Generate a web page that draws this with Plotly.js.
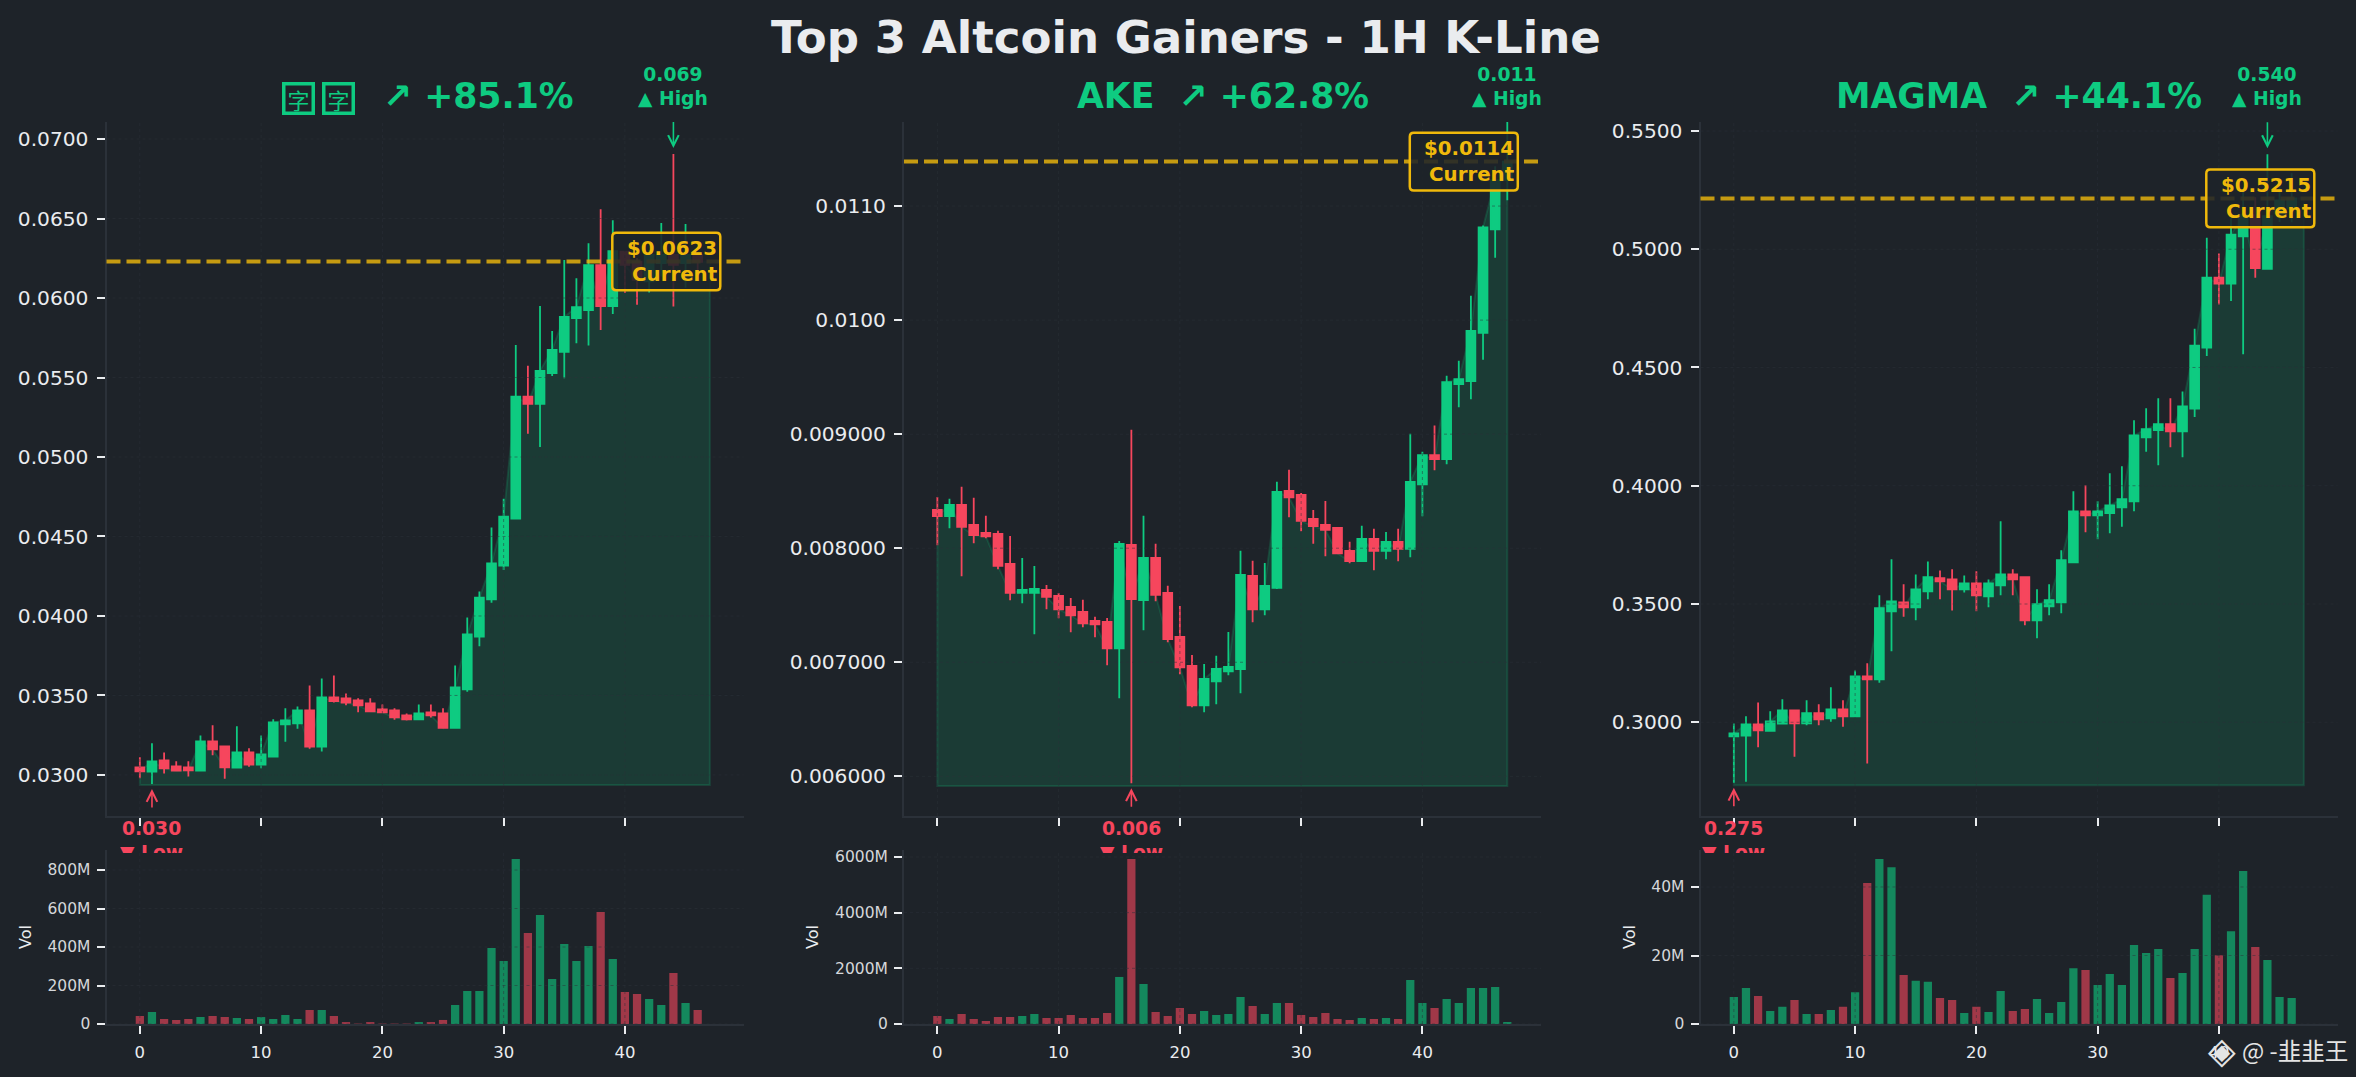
<!DOCTYPE html>
<html><head><meta charset="utf-8">
<script src="https://cdn.plot.ly/plotly-3.0.1.min.js"></script>
<style>html,body{margin:0;padding:0;background:#1E2329}#chart{width:2356px;height:1077px}</style>
</head><body><div id="chart"></div>
<script>
// ---------- data ----------
const chartTitle = 'Top 3 Altcoin Gainers - 1H K-Line';

const open1  = [.03048,.03021,.03092,.03054,.03048,.03027,.03211,.0318,.03046,.03142,.03065,.03115,.03318,.03325,.03406,.03178,.03488,.03482,.03469,.0345,.03413,.03406,.03375,.0335,.03394,.03387,.03297,.03538,.03871,.04104,.04317,.04612,.05379,.05335,.05527,.05661,.05873,.05924,.06206,.05949,.06292,.06229,.06104,.0622,.06271,.0622,.06271];
const close1 = [.03023,.03086,.03042,.03027,.03029,.03211,.03161,.03048,.03142,.03065,.0313,.03331,.03343,.03406,.03178,.03488,.03465,.03456,.03438,.034,.03394,.03362,.0335,.03387,.03375,.03297,.03551,.03884,.04116,.0433,.04625,.05379,.05335,.05542,.05674,.05881,.05943,.06206,.05949,.06294,.06209,.06114,.06271,.06271,.06209,.06271,.06227];
const high1  = [.03111,.03199,.03142,.03086,.03086,.03249,.03312,.0318,.03306,.03168,.03249,.0335,.03419,.03431,.03563,.03607,.03626,.03513,.03482,.03482,.03444,.03419,.03387,.03444,.03444,.03419,.03689,.0399,.04154,.04556,.04738,.05705,.05574,.0595,.05793,.06239,.06125,.06345,.06558,.06489,.06295,.06252,.063,.06472,.06906,.06466,.0629];
const low1   = [.02979,.02943,.0301,.03023,.0299,.03027,.03124,.02977,.03042,.03052,.03042,.03111,.03209,.03291,.03165,.03147,.03456,.03438,.03394,.03394,.03394,.03348,.03343,.0335,.03362,.03293,.03291,.03524,.0381,.04083,.0429,.04612,.05146,.05063,.05509,.05496,.05716,.05702,.05798,.05899,.06031,.05957,.06035,.06135,.05947,.06064,.0614];
const vol1   = [42,62,26,21,26,36,42,36,31,26,36,26,47,26,73,73,42,10,2,10,2,2,2,10,10,21,99,171,171,395,327,857,473,566,234,416,327,405,582,338,166,156,130,99,265,109,73];

const open2  = [.008336,.008281,.00838,.008205,.008135,.008126,.007863,.007608,.007608,.007634,.007582,.007485,.007442,.007363,.007354,.007123,.008029,.007544,.007915,.007608,.007222,.006968,.006623,.006833,.006921,.006939,.007757,.007465,.007652,.008503,.008468,.008257,.008205,.008178,.007977,.007886,.008082,.007977,.008056,.007994,.008561,.008816,.008781,.009439,.009465,.009889,.010795,.011228];
const close2 = [.008281,.00838,.008187,.008114,.008105,.007845,.007608,.007634,.007643,.007573,.007465,.007412,.007342,.007333,.007123,.008038,.007553,.007915,.007591,.007202,.006956,.006623,.006854,.006942,.006959,.007766,.007465,.00767,.008494,.008447,.00824,.008193,.008161,.007956,.007886,.008082,.007977,.008056,.007994,.008582,.008816,.008781,.009456,.009482,.009906,.010813,.011228,.01139];
const high2  = [.00845,.008433,.008538,.008442,.008284,.008152,.008108,.007915,.007845,.007678,.007608,.007564,.007547,.007398,.007389,.008064,.009038,.008284,.008038,.00767,.007494,.007064,.006985,.007056,.007266,.007977,.007889,.007871,.008582,.008687,.008485,.008336,.008415,.008184,.008056,.008196,.00817,.008143,.00817,.009003,.008845,.009076,.009512,.009643,.010213,.01083,.01135,.01175];
const low2   = [.008026,.008175,.007754,.008044,.008088,.007816,.007544,.007518,.007246,.007465,.007386,.007263,.007307,.007219,.006974,.006684,.005939,.007281,.007535,.007175,.006895,.006605,.006561,.006632,.006886,.006728,.007351,.007412,.007643,.008272,.008149,.008038,.00793,.007956,.007868,.007886,.007807,.007904,.007886,.007921,.008281,.008684,.008737,.009237,.009307,.009652,.010547,.01105];
const vol2   = [287,180,359,180,108,251,251,287,359,215,215,323,215,215,395,1690,5930,1438,431,287,575,359,467,323,359,970,647,359,755,755,323,251,395,180,144,215,180,215,180,1581,755,575,898,755,1294,1294,1330,72];

const open3  = [.294,.2944,.2991,.2964,.2994,.305,.2995,.3038,.3016,.3054,.3025,.3194,.3181,.3469,.3507,.3486,.3554,.3609,.3604,.3562,.3587,.3532,.3579,.3625,.3613,.3431,.349,.3507,.3676,.3892,.3875,.3884,.3909,.3934,.4205,.4235,.426,.423,.4326,.4584,.488,.4855,.5054,.5144,.4917,.5152,.5173];
const close3 = [.2953,.2991,.2966,.3004,.305,.2995,.3038,.3012,.3054,.3025,.3194,.3181,.3482,.3511,.3486,.3562,.3613,.3596,.3562,.3587,.3537,.3587,.3625,.3604,.3431,.3499,.3516,.3685,.3892,.3875,.3892,.3917,.3943,.4213,.4239,.426,.423,.4336,.4592,.488,.4855,.5062,.5144,.492,.514,.5207,.5215];
const high3  = [.2995,.3025,.3084,.3046,.3097,.3054,.3093,.3076,.3148,.3093,.3219,.3249,.3537,.3689,.3583,.3625,.368,.3642,.3647,.3621,.3638,.3604,.385,.3647,.3617,.3562,.3583,.3727,.3977,.4002,.3934,.4053,.4082,.4277,.4328,.437,.437,.4398,.4664,.5049,.4982,.5131,.525,.522,.5402,.5283,.5321];
const low3   = [.2744,.2748,.2894,.2961,.299,.2854,.2987,.2987,.3002,.2981,.3025,.2826,.3167,.33,.3446,.3431,.352,.352,.3473,.3549,.3469,.3486,.3537,.3537,.341,.3355,.3452,.3461,.3676,.3803,.3774,.3799,.3827,.3892,.4144,.4087,.4163,.412,.4291,.4549,.4766,.4781,.4556,.4879,.4915,.5115,.5114];
const vol3   = [7.9,10.5,8.2,3.8,5,7,2.9,2.9,4.1,5,9.3,41.2,48.2,45.8,14.3,12.6,12.3,7.6,7,3.2,5,3.5,9.6,3.8,4.4,7.3,3.2,6.4,16.3,15.8,11.4,14.6,11.4,23.1,20.7,21.9,13.4,14.9,21.9,37.7,20.1,27.1,44.7,22.5,18.7,7.9,7.6];

const current = [0.0623, 0.01139, 0.5215];
const currentLabel = ['$0.0623', '$0.0114', '$0.5215'];
const areaBase = [0.02937, 0.005915, 0.2734];
const symbols = ['', 'AKE', 'MAGMA'];
const gains = ['+85.1%', '+62.8%', '+44.1%'];
const missingGlyph = ['字', '字'];
const highText = ['0.069', '0.011', '0.540'];
const lowText = ['0.030', '0.006', '0.275'];
const highIdx = [44, 47, 44];
const lowIdx = [1, 16, 0];
const showHighArrow = [true, false, true];

const priceTicks = [
  [.03,.035,.04,.045,.05,.055,.06,.065,.07],
  [.006,.007,.008,.009,.01,.011],
  [.3,.35,.4,.45,.5,.55]
];
const priceLabels = [
  ['0.0300','0.0350','0.0400','0.0450','0.0500','0.0550','0.0600','0.0650','0.0700'],
  ['0.006000','0.007000','0.008000','0.009000','0.0100','0.0110'],
  ['0.3000','0.3500','0.4000','0.4500','0.5000','0.5500']
];
const volTicks = [[0,200,400,600,800],[0,2000,4000,6000],[0,20,40]];
const volLabels = [['0','200M','400M','600M','800M'],['0','2000M','4000M','6000M'],['0','20M','40M']];
const xTicks = [0,10,20,30,40];
const xTickLabels = ['0','10','20','30','40'];
const priceRanges = [[.02742,.07107],[.005652,.011737],[.26036,.5538]];
const volRanges = [[0,904],[0,6250],[0,50.8]];
const xRange = [-2.75, 49.78];

// ---------- style ----------
const W = 2356, H = 1077;
const BG = '#1E2329', UP = '#0ECB81', DOWN = '#F6465D', GOLD = '#F0B90B', TXT = '#EAECEF', SPINE = '#2B3139';
const FONT = 'DejaVu Sans';
const panelX = [[106.5,743.5],[904,1541],[1700.5,2337.5]];
const mainY = [122,816], volY = [850,1024];
const px = v => v / W, py = v => 1 - v / H;

const opens = [open1,open2,open3], closes = [close1,close2,close3], highs = [high1,high2,high3], lows = [low1,low2,low3], vols = [vol1,vol2,vol3];

const traces = [], shapes = [], annotations = [];
const layout = {
  width: W, height: H, autosize: false,
  margin: {l:0,r:0,t:0,b:0,pad:0},
  paper_bgcolor: BG, plot_bgcolor: BG, showlegend: false, hovermode: false, boxgap: 0.27, boxgroupgap: 0,
  title: {text: chartTitle, x: 1186/W, xref:'paper', xanchor:'center', y: py(37), yanchor:'middle', yref:'paper',
          font:{family:FONT, size:45.1, weight:'bold', color:TXT}}
};

function gridDots(xa, ya, xvals, yvals){
  xvals.forEach(v => shapes.push({type:'line', layer:'above', xref:xa, yref:ya+' domain', x0:v, x1:v, y0:0, y1:1, line:{color:'rgba(43,49,57,0.5)', width:1, dash:'dot'}}));
  yvals.forEach(v => shapes.push({type:'line', layer:'above', xref:xa+' domain', yref:ya, x0:0, x1:1, y0:v, y1:v, line:{color:'rgba(43,49,57,0.5)', width:1, dash:'dot'}}));
}

// rounded outline, in pixels about its anchor
function badgePath(l, r, hh, c){
  return `M${l+c},${-hh} L${r-c},${-hh} Q${r},${-hh} ${r},${-hh+c} L${r},${hh-c} Q${r},${hh} ${r-c},${hh} L${l+c},${hh} Q${l},${hh} ${l},${hh-c} L${l},${-hh+c} Q${l},${-hh} ${l+c},${-hh} Z`;
}

for (let p = 0; p < 3; p++){
  const n = 2*p+1, m = 2*p+2;
  const xm = 'x'+n, ym = 'y'+n, xv = 'x'+m, yv = 'y'+m;
  const xs = opens[p].map((_,i)=>i);
  const xdom = [px(panelX[p][0]), px(panelX[p][1])];
  const axisBase = {showline:true, linecolor:SPINE, linewidth:2, mirror:false, zeroline:false, showgrid:false,
                    ticks:'outside', ticklen:8, tickwidth:2, tickcolor:TXT, fixedrange:true};

  layout['xaxis'+n] = {...axisBase, domain:xdom, anchor:ym, range:xRange, tickmode:'array', tickvals:xTicks, ticktext:xTickLabels,
                       showticklabels:false, rangeslider:{visible:false}};
  layout['yaxis'+n] = {...axisBase, domain:[py(mainY[1]),py(mainY[0])], anchor:xm, range:priceRanges[p], tickmode:'array',
                       tickvals:priceTicks[p], ticktext:priceLabels[p], tickfont:{family:FONT,size:20.2,color:TXT}, ticklabelstandoff:4};
  layout['xaxis'+m] = {...axisBase, domain:xdom, anchor:yv, range:xRange, tickmode:'array', tickvals:xTicks, ticktext:xTickLabels,
                       tickfont:{family:FONT,size:16.5,color:TXT}, ticklabelstandoff:4};
  layout['yaxis'+m] = {...axisBase, domain:[py(volY[1]),py(volY[0])], anchor:xv, range:volRanges[p], tickmode:'array',
                       tickvals:volTicks[p], ticktext:volLabels[p], tickfont:{family:FONT,size:15.5,color:'#D5D7DA'}, ticklabelstandoff:3,
                       title:{text:'Vol', standoff:12, font:{family:FONT,size:16,color:TXT}}};

  // green area under closes, reaching to the last slot
  const areaY = closes[p].concat(xs.length < 48 ? [current[p]] : []);
  const areaPts = areaY.map((v,i)=>i+','+v);
  const last = areaY.length - 1;
  shapes.push({type:'path', layer:'below', xref:xm, yref:ym,
    path:'M'+areaPts.join(' L')+' L'+last+','+areaBase[p]+' L0,'+areaBase[p]+' Z',
    fillcolor:'rgba(14,203,129,0.15)', line:{color:'rgba(14,203,129,0.18)', width:2}});

  traces.push({type:'candlestick', xaxis:xm, yaxis:ym, x:xs, open:opens[p], high:highs[p], low:lows[p], close:closes[p],
    increasing:{line:{color:UP,width:1.8}, fillcolor:UP}, decreasing:{line:{color:DOWN,width:1.8}, fillcolor:DOWN},
    whiskerwidth:0, hoverinfo:'skip'});

  traces.push({type:'bar', xaxis:xv, yaxis:yv, x:xs, y:vols[p], width:0.68,
    marker:{color:xs.map(i=>closes[p][i]>=opens[p][i]?'rgba(14,203,129,0.6)':'rgba(246,70,93,0.6)'), line:{width:0}}, hoverinfo:'skip'});

  gridDots(xm, ym, xTicks, priceTicks[p]);
  gridDots(xv, yv, xTicks, volTicks[p]);

  // current price line
  shapes.push({type:'line', layer:'above', xref:xm+' domain', yref:ym, x0:0, x1:1, y0:current[p], y1:current[p],
    line:{color:'rgba(240,185,11,0.8)', width:4, dash:'14px,6px'}});

  // headline
  const cx = (panelX[p][0]+panelX[p][1])/2;
  const headFont = {family:FONT,size:34.7,weight:'bold',color:UP};
  if (p === 0){
    [298.5,338.5].forEach((bx,i)=>annotations.push({xref:'paper',yref:'paper',x:px(bx),y:py(98.5),xanchor:'center',yanchor:'middle',
      text:missingGlyph[i], showarrow:false, width:26, height:26, borderwidth:3.5, borderpad:0, bordercolor:UP, align:'center', valign:'middle',
      font:{family:'Noto Sans CJK SC',size:22,color:UP}}));
    annotations.push({xref:'paper',yref:'paper',x:px(381),y:py(96),xanchor:'left',yanchor:'middle',showarrow:false,
      text:'↗ '+gains[p], font:headFont});
  } else {
    annotations.push({xref:'paper',yref:'paper',x:px(cx),y:py(96),xanchor:'center',yanchor:'middle',showarrow:false,
      text:symbols[p]+'\u00a0\u00a0↗ '+gains[p], font:headFont});
  }

  // high label + arrow
  annotations.push({xref:xm,yref:'paper',x:highIdx[p],y:py(111),xanchor:'center',yanchor:'bottom',showarrow:false,align:'center',
    text:highText[p]+'<br>▲ High', font:{family:FONT,size:18.75,weight:'bold',color:UP}});
  if (showHighArrow[p]) annotations.push({xref:xm,yref:ym,x:highIdx[p],y:highs[p][highIdx[p]],text:' ',font:{size:1},showarrow:true,
    arrowhead:5,arrowsize:1.3,arrowwidth:1.6,arrowcolor:UP,ax:0,ay:-34,standoff:6});

  // low label + arrow; the label is cut where the volume panel begins
  annotations.push({xref:xm,yref:'paper',x:lowIdx[p],y:py(817),xanchor:'center',yanchor:'top',showarrow:false,align:'center',valign:'top',
    height:35, borderpad:0, text:lowText[p]+'<br>▼ Low', font:{family:FONT,size:18.75,weight:'bold',color:DOWN}});
  annotations.push({xref:xm,yref:ym,x:lowIdx[p],y:lows[p][lowIdx[p]],text:' ',font:{size:1},showarrow:true,
    arrowhead:5,arrowsize:1.3,arrowwidth:1.6,arrowcolor:DOWN,ax:0,ay:25.5,standoff:5});

  // current badge: rounded plate tied to the price, text on top
  shapes.push({type:'path', layer:'above', xref:xm, yref:ym, xsizemode:'pixel', ysizemode:'pixel', xanchor:47, yanchor:current[p],
    path:badgePath(-97.5, 10.5, 28.8, 4), fillcolor:'rgba(30,35,41,0.88)', line:{color:GOLD, width:2.5}});
  annotations.push({xref:xm,yref:ym,x:47,y:current[p],xshift:8,xanchor:'right',yanchor:'middle',showarrow:false,align:'right',
    text:currentLabel[p]+'<br>Current', font:{family:FONT,size:19.8,weight:'bold',color:GOLD}, borderpad:0});
}

// watermark
annotations.push({xref:'paper',yref:'paper',x:px(2222),y:py(1050),xanchor:'center',yanchor:'middle',showarrow:false,
  text:'◈',font:{family:FONT,size:36,color:'#E4E4E4'}});
annotations.push({xref:'paper',yref:'paper',x:px(2240),y:py(1050),xanchor:'left',yanchor:'middle',showarrow:false,
  text:'@ -韭韭王',font:{family:'Noto Sans CJK SC',size:23.5,color:'#E4E4E4'}});

layout.shapes = shapes;
layout.annotations = annotations;
Plotly.newPlot('chart', traces, layout, {displayModeBar:false, staticPlot:true});
</script></body></html>
